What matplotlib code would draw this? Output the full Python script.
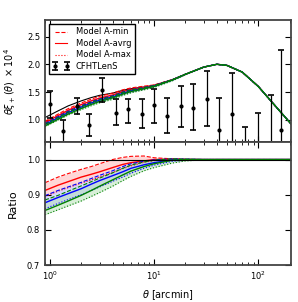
import numpy as np
import matplotlib
matplotlib.use("Agg")
import matplotlib.pyplot as plt

# CFHTLenS data points
theta_obs = [1.0, 1.33, 1.82, 2.37, 3.16, 4.31, 5.62, 7.67, 10.0, 13.3,
             18.2, 23.7, 32.2, 42.1, 56.2, 75.0, 100.0, 131.0, 166.0]
xi_obs = [1.28, 0.80, 1.25, 0.90, 1.53, 1.13, 1.19, 1.10, 1.26, 1.07,
          1.24, 1.22, 1.38, 0.82, 1.11, 0.40, 0.30, 0.45, 0.82]
err_lo = [1.03, 0.60, 1.10, 0.70, 1.32, 0.91, 0.95, 0.85, 0.95, 0.76,
          0.87, 0.82, 0.89, 0.20, 0.30, 0.10, 0.10, 0.10, 0.10]
err_hi = [1.52, 1.00, 1.40, 1.10, 1.75, 1.37, 1.37, 1.37, 1.55, 1.40,
          1.60, 1.64, 1.88, 1.40, 1.84, 0.87, 1.13, 1.45, 2.25]

# model grid
theta = [0.9, 1.2, 1.5, 2.0, 2.5, 3.0, 4.0, 5.0, 6.0, 8.0, 10.0, 15.0,
         20.0, 30.0, 40.0, 50.0, 70.0, 100.0, 150.0, 205.0]
xi_base = [1.04, 1.16, 1.25, 1.34, 1.40, 1.44, 1.48, 1.53, 1.56, 1.59,
           1.62, 1.72, 1.82, 1.95, 2.00, 1.98, 1.86, 1.60, 1.22, 0.93]

# ratio curves: (min, avrg, max) for three model families
ratio_red = (
    [0.934, 0.950, 0.960, 0.972, 0.980, 0.988, 1.000, 1.006, 1.009, 1.010,
     1.005, 1.002, 1.001, 1.0, 1.0, 1.0, 1.0, 1.0, 1.0, 1.0],
    [0.912, 0.927, 0.937, 0.950, 0.958, 0.965, 0.977, 0.986, 0.991, 0.996,
     1.000, 1.001, 1.000, 1.0, 1.0, 1.0, 1.0, 1.0, 1.0, 1.0],
    [0.895, 0.910, 0.920, 0.933, 0.942, 0.950, 0.963, 0.974, 0.982, 0.992,
     0.997, 1.000, 1.000, 1.0, 1.0, 1.0, 1.0, 1.0, 1.0, 1.0],
)
ratio_blue = (
    [0.897, 0.912, 0.922, 0.935, 0.946, 0.955, 0.968, 0.980, 0.988, 0.995,
     0.999, 1.002, 1.001, 1.0, 1.0, 1.0, 1.0, 1.0, 1.0, 1.0],
    [0.877, 0.892, 0.903, 0.917, 0.930, 0.940, 0.954, 0.965, 0.975, 0.985,
     0.991, 0.999, 1.000, 1.0, 1.0, 1.0, 1.0, 1.0, 1.0, 1.0],
    [0.860, 0.875, 0.886, 0.900, 0.912, 0.922, 0.938, 0.950, 0.961, 0.975,
     0.984, 0.995, 0.998, 1.0, 1.0, 1.0, 1.0, 1.0, 1.0, 1.0],
)
ratio_green = (
    [0.885, 0.898, 0.910, 0.925, 0.937, 0.947, 0.962, 0.975, 0.984, 0.993,
     0.998, 1.002, 1.001, 1.0, 1.0, 1.0, 1.0, 1.0, 1.0, 1.0],
    [0.855, 0.870, 0.882, 0.898, 0.912, 0.924, 0.942, 0.956, 0.967, 0.980,
     0.988, 0.998, 1.000, 1.0, 1.0, 1.0, 1.0, 1.0, 1.0, 1.0],
    [0.843, 0.857, 0.868, 0.882, 0.895, 0.906, 0.924, 0.940, 0.952, 0.968,
     0.977, 0.990, 0.996, 0.999, 1.0, 1.0, 1.0, 1.0, 1.0, 1.0],
)

families = [("red", "#ffb0b0", ratio_red),
            ("blue", "#b0b0ff", ratio_blue),
            ("green", "#b0e0b0", ratio_green)]

plt.rcParams["font.family"] = "DejaVu Sans"
plt.rcParams["font.size"] = 6
plt.rcParams["axes.edgecolor"] = "#444444"
plt.rcParams["axes.linewidth"] = 1.3

fig = plt.figure(figsize=(2.98, 3.02), dpi=100)
ax1 = fig.add_axes([0.151, 0.530, 0.825, 0.404])
ax2 = fig.add_axes([0.151, 0.1225, 0.825, 0.4075], sharex=ax1)

th = np.array(theta)
base = np.array(xi_base)

# baseline first, models drawn over it
ax1.plot(th, base, color="black", lw=0.8)

for color, fill, (rmin, ravg, rmax) in families:
    rmin, ravg, rmax = np.array(rmin), np.array(ravg), np.array(rmax)
    ax1.fill_between(th, base * rmin, base * rmax, color=fill, alpha=0.5, lw=0)
    ax1.plot(th, base * rmax, color=color, ls=":", lw=0.8)
    ax1.plot(th, base * rmin, color=color, ls="--", lw=0.8)
    ax1.plot(th, base * ravg, color=color, ls="-", lw=1.0)

    ax2.fill_between(th, rmin, rmax, color=fill, alpha=0.5, lw=0)
    ax2.plot(th, rmax, color=color, ls=":", lw=0.8)
    ax2.plot(th, rmin, color=color, ls="--", lw=0.8)
    ax2.plot(th, ravg, color=color, ls="-", lw=1.0)

# legend handles
h_min, = ax1.plot([], [], color="red", ls="--", lw=0.8, label="Model A-min")
h_avg, = ax1.plot([], [], color="red", ls="-", lw=0.8, label="Model A-avrg")
h_max, = ax1.plot([], [], color="red", ls=":", lw=0.8, label="Model A-max")

obs = np.array(xi_obs)
yerr = [obs - np.array(err_lo), np.array(err_hi) - obs]
h_obs = ax1.errorbar(theta_obs, obs, yerr=yerr, fmt="o", color="black",
                     ms=2, lw=0.9, capsize=2, capthick=1.2, label="CFHTLenS")

ax1.legend(handles=[h_min, h_avg, h_max, h_obs], loc="upper left",
           fontsize=6, handlelength=2.0, borderpad=0.4, labelspacing=0.3,
           numpoints=2, fancybox=False, edgecolor="black", framealpha=1)

ax1.set_xscale("log")
ax1.set_xlim(0.9, 205)
ax1.set_ylim(0.6, 2.8)
ax1.set_yticks([1.0, 1.5, 2.0, 2.5])
ax1.set_ylabel(r"$\theta\xi_+(\theta)\ \times10^4$", fontsize=7)
ax1.tick_params(labelbottom=False)

ax2.axhline(1.0, color="black", lw=0.8)
ax2.set_ylim(0.7, 1.05)
ax2.set_yticks([0.7, 0.8, 0.9, 1.0])
ax2.set_ylabel("Ratio", fontsize=8)
ax2.set_xlabel(r"$\theta$ [arcmin]", fontsize=7)

for ax in (ax1, ax2):
    ax.tick_params(which="both", direction="in", top=True, right=True,
                   labelsize=6)
    ax.tick_params(which="major", length=4)
    ax.tick_params(which="minor", length=2)

ax1.yaxis.set_label_coords(-0.11, 0.5)
ax2.yaxis.set_label_coords(-0.11, 0.5)

fig.savefig("out.png", dpi=100)
